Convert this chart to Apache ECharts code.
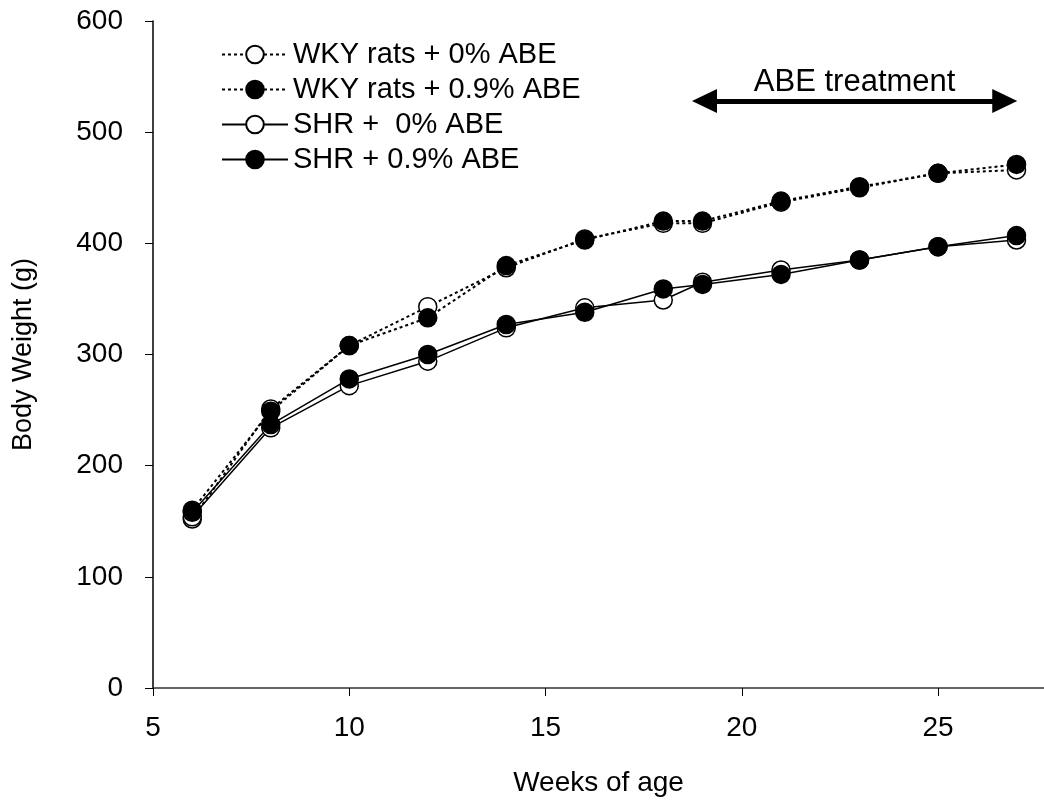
<!DOCTYPE html>
<html>
<head>
<meta charset="utf-8">
<script src="https://cdn.jsdelivr.net/npm/echarts@6/dist/echarts.min.js"></script>
<style>
  html, body { margin: 0; padding: 0; background: #fff; }
  #chart { width: 1044px; height: 802px; }
</style>
</head>
<body>
<div id="chart"></div>
<script>
// weeks of age
var weeks = [6, 8, 10, 12, 14, 16, 18, 19, 21, 23, 25, 27];
// body weight (g)
var wky0 = [152, 251, 308, 343, 378, 404, 418, 418, 437, 450, 463, 466];
var wky09 = [160, 249, 308, 333, 380, 403, 420, 420, 438, 451, 463, 471];
var shr0 = [154, 234, 272, 294, 324, 342, 349, 365, 376, 385, 397, 403];
var shr09 = [158, 237, 278, 300, 327, 338, 359, 363, 372, 385, 397, 407];
var seriesNames = ['WKY rats + 0% ABE', 'WKY rats + 0.9% ABE', 'SHR +  0% ABE', 'SHR + 0.9% ABE'];
// treatment period arrow
var treatWeeks = [19.05, 26.7];
var treatLevel = 528;
var treatLabel = 'ABE treatment';

var font = 'Liberation Sans, Arial, sans-serif';

function pairs(ys) {
  var out = [];
  for (var i = 0; i < weeks.length; i++) out.push([weeks[i], ys[i]]);
  return out;
}

function makeSeries(name, ys, open, dotted) {
  return {
    name: name,
    type: 'line',
    data: pairs(ys),
    symbol: 'circle',
    symbolSize: 18,
    itemStyle: {
      color: open ? '#fff' : '#000',
      borderColor: '#000',
      borderWidth: 1.5
    },
    lineStyle: {
      color: '#000',
      width: dotted ? 2 : 1.5,
      type: dotted ? [3, 3] : 'solid'
    }
  };
}

var series = [
  makeSeries(seriesNames[0], wky0, true, true),
  makeSeries(seriesNames[1], wky09, false, true),
  makeSeries(seriesNames[2], shr0, true, false),
  makeSeries(seriesNames[3], shr09, false, false)
];

series[0].markLine = {
  silent: true,
  symbol: ['triangle', 'triangle'],
  symbolSize: [24, 25],
  lineStyle: { color: '#000', width: 5, type: 'solid' },
  label: {
    show: true,
    position: 'middle',
    formatter: treatLabel,
    color: '#000',
    fontFamily: font,
    fontSize: 31,
    distance: 3
  },
  data: [[
    { coord: [treatWeeks[0], treatLevel] },
    { coord: [treatWeeks[1], treatLevel] }
  ]]
};

var chart = echarts.init(document.getElementById('chart'));
chart.setOption({
  animation: false,
  backgroundColor: '#fff',
  grid: { left: 153, right: 0, top: 21, bottom: 113 },
  legend: {
    orient: 'vertical',
    left: 216,
    top: 35,
    itemWidth: 66,
    itemHeight: 22,
    itemGap: 6,
    data: seriesNames,
    textStyle: { color: '#000', fontFamily: font, fontSize: 29 }
  },
  xAxis: {
    type: 'value',
    min: 5,
    max: 27.7,
    interval: 5,
    name: 'Weeks of age',
    nameLocation: 'middle',
    nameGap: 81,
    nameTextStyle: { color: '#000', fontFamily: font, fontSize: 28 },
    axisLine: { lineStyle: { color: '#333', width: 1.5 } },
    axisTick: { show: true, length: 8, lineStyle: { color: '#000' } },
    axisLabel: { color: '#000', fontFamily: font, fontSize: 28, margin: 26, showMaxLabel: false },
    splitLine: { show: false }
  },
  yAxis: {
    type: 'value',
    min: 0,
    max: 600,
    interval: 100,
    name: 'Body Weight (g)',
    nameLocation: 'middle',
    nameGap: 116,
    nameTextStyle: { color: '#000', fontFamily: font, fontSize: 27 },
    axisLine: { show: true, lineStyle: { color: '#000', width: 1.5 } },
    axisTick: { show: true, length: 8, lineStyle: { color: '#000' } },
    axisLabel: { color: '#000', fontFamily: font, fontSize: 28, margin: 30 },
    splitLine: { show: false }
  },
  series: series
});
</script>
</body>
</html>
